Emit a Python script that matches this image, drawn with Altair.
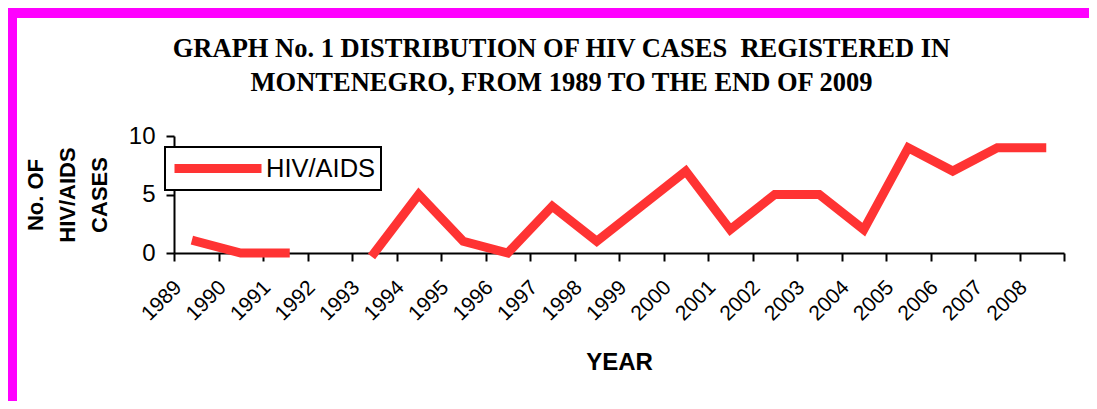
import altair as alt
import pandas as pd

# ---- data ----
years = list(range(1989, 2009))
cases = [1, 0, 0, None, 0, 5, 1, 0, 4, 1, 4, 7, 2, 5, 5, 2, 9, 7, 9, 9]
series_name = "HIV/AIDS"

title_lines = [
    "GRAPH No. 1 DISTRIBUTION OF HIV CASES \u00a0REGISTERED IN",
    "MONTENEGRO, FROM 1989 TO THE END OF 2009",
]
y_title = ["No. OF", "HIV/AIDS", "CASES"]
x_title = "YEAR"
y_ticks = [0, 5, 10]

# category boundaries (Excel-style ticks between categories)
x_boundaries = [y - 0.5 for y in years] + [years[-1] + 0.5]

RED = "#FF3333"
MAGENTA = "#FF00FF"

df = pd.DataFrame({"year": years, "cases": cases, "series": [series_name] * len(years)})

PLOT_W, PLOT_H = 890, 117
PAD = {"left": 166, "top": 128, "right": 25, "bottom": 148}

line = alt.Chart(df).mark_line(
    strokeWidth=9,
    strokeCap="square",
    strokeJoin="miter",
    invalid="break-paths-show-domains",
).encode(
    x=alt.X(
        "year:Q",
        scale=alt.Scale(domain=[x_boundaries[0], x_boundaries[-1]], nice=False, zero=False),
        axis=alt.Axis(
            values=x_boundaries,
            labelExpr=f"datum.value < {years[-1]} ? format(datum.value + 0.5, 'd') : ''",
            labelAngle=-45,
            labelAlign="right",
            labelBaseline="middle",
            labelOffset=4,
            labelPadding=23,
            labelFont="Liberation Sans",
            labelFontSize=21,
            labelColor="black",
            labelOverlap=False,
            labelFlush=False,
            tickSize=8,
            tickWidth=2,
            tickColor="black",
            domainColor="black",
            domainWidth=2,
            grid=False,
            title=x_title,
            titleFont="Liberation Sans",
            titleFontSize=24,
            titleFontWeight="bold",
            titleColor="black",
            titleX=PLOT_W / 2,
            titleY=116,
            titleAlign="center",
            titleBaseline="alphabetic",
        ),
    ),
    y=alt.Y(
        "cases:Q",
        scale=alt.Scale(domain=[0, 10], nice=False),
        axis=alt.Axis(
            values=y_ticks,
            tickSize=8,
            tickWidth=2,
            tickColor="black",
            domainColor="black",
            domainWidth=2,
            grid=False,
            labelFont="Liberation Sans",
            labelFontSize=24,
            labelColor="black",
            labelPadding=11,
            title=y_title,
            titleFont="Liberation Sans",
            titleFontSize=22,
            titleFontWeight="bold",
            titleColor="black",
            titleAngle=-90,
            titleX=-148.5,
            titleY=PLOT_H / 2,
            titleAlign="center",
            titleBaseline="top",
            titleLineHeight=32,
        ),
    ),
    color=alt.Color(
        "series:N",
        scale=alt.Scale(domain=[series_name], range=[RED]),
        legend=alt.Legend(
            orient="none",
            legendX=-9,
            legendY=11,
            title=None,
            symbolType="stroke",
            symbolSize=7569,
            symbolStrokeWidth=9,
            labelFont="Liberation Sans",
            labelFontSize=25.5,
            labelColor="black",
            labelOffset=0,
            padding=5,
            clipHeight=33,
            strokeColor="black",
            fillColor="white",
        ),
    ),
)

frame_df = pd.DataFrame({"k": [0]})
top_bar = alt.Chart(frame_df).mark_rule(color=MAGENTA, strokeWidth=10).encode(
    x=alt.value(-PAD["left"]), x2=alt.value(PLOT_W + PAD["right"]), y=alt.value(-PAD["top"] + 5)
)
left_bar = alt.Chart(frame_df).mark_rule(color=MAGENTA, strokeWidth=9).encode(
    x=alt.value(-PAD["left"] + 4.5), y=alt.value(-PAD["top"]), y2=alt.value(PLOT_H + PAD["bottom"])
)

chart = alt.layer(line, top_bar, left_bar).properties(
    width=PLOT_W,
    height=PLOT_H,
    autosize=alt.AutoSizeParams(type="none"),
    padding=PAD,
    background="white",
    title=alt.TitleParams(
        text=title_lines,
        font="Liberation Serif",
        fontSize=26.5,
        fontWeight="bold",
        color="black",
        anchor="middle",
        frame="group",
        dx=-57.5,
        offset=-120,
        baseline="bottom",
        lineHeight=34,
    ),
).configure_view(stroke=None).configure_legend(strokeWidth=2)

chart.save("out.html", embed_options={"renderer": "svg", "actions": False})
